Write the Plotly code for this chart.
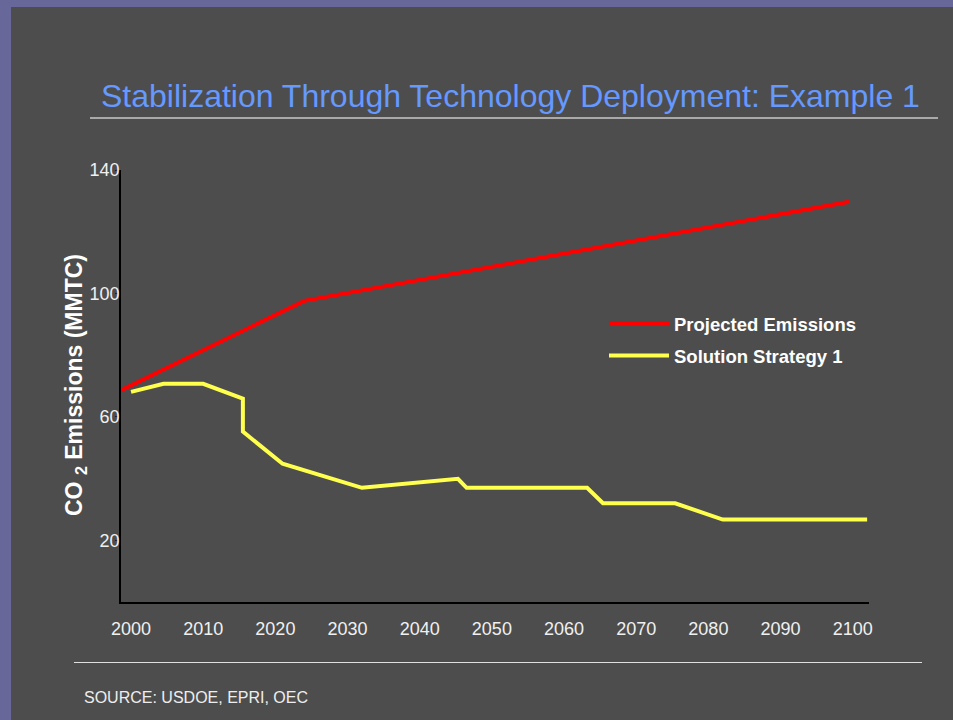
import plotly.graph_objects as go

# Projected CO2 emissions vs. the technology-deployment strategy (MMTC)
projected_years = [1998.5, 2024.0, 2099.5]
projected_values = [68.5, 97.6, 129.7]

strategy_years = [2000.0, 2004.5, 2010.0, 2015.5, 2015.5, 2021.0, 2032.0,
                  2045.3, 2046.5, 2063.2, 2065.4, 2075.4, 2082.0, 2102.0]
strategy_values = [68.1, 70.7, 70.7, 65.9, 55.2, 44.8, 37.0,
                   39.9, 37.0, 37.0, 32.0, 32.0, 26.7, 26.7]

x_ticks = list(range(2000, 2101, 10))
y_ticks = [20, 60, 100, 140]

W, H = 953, 720
L, R, T, B = 121, 869, 170, 602  # plot-area edges in pixels


def px(x):
    return (x - L) / (R - L)


def py(y):
    return (B - y) / (B - T)


FONT = "Liberation Sans, Arial, sans-serif"

fig = go.Figure()
fig.add_trace(go.Scatter(
    x=projected_years, y=projected_values, mode="lines",
    name="Projected Emissions", line=dict(color="#ff0000", width=4),
    legendgroup="a",
))
fig.add_trace(go.Scatter(
    x=strategy_years, y=strategy_values, mode="lines",
    name="Solution Strategy 1", line=dict(color="#ffff4d", width=4),
    legendgroup="b",
))

shapes = [
    # slide background with the purple frame on the top and left edges
    dict(type="rect", xref="paper", yref="paper", x0=px(11), x1=px(W + 5),
         y0=py(7), y1=py(H + 5), fillcolor="#4d4d4d", line=dict(width=0),
         layer="below"),
    # rule under the title
    dict(type="line", xref="paper", yref="paper", x0=px(90), x1=px(938),
         y0=py(118), y1=py(118), line=dict(color="#c8c8c8", width=1.5)),
    # rule above the source note
    dict(type="line", xref="paper", yref="paper", x0=px(74), x1=px(922),
         y0=py(662.5), y1=py(662.5), line=dict(color="#e0e0e0", width=1.2)),
]

annotations = [
    dict(text="Stabilization Through Technology Deployment: Example 1",
         xref="paper", yref="paper", x=px(99), y=py(96), xanchor="left",
         yanchor="middle", showarrow=False,
         font=dict(family=FONT, size=32, color="#6699ff")),
    dict(text="<b>CO <sub>2</sub> Emissions (MMTC)</b>",
         xref="paper", yref="paper", x=px(75), y=py(385), xanchor="center",
         yanchor="middle", textangle=-90, showarrow=False,
         font=dict(family=FONT, size=23, color="#ffffff")),
    dict(text="SOURCE: USDOE, EPRI, OEC",
         xref="paper", yref="paper", x=px(82), y=py(697), xanchor="left",
         yanchor="middle", showarrow=False,
         font=dict(family=FONT, size=16, color="#eeeeee")),
]

fig.update_layout(
    width=W, height=H,
    margin=dict(l=L, r=W - R, t=T, b=H - B, pad=0),
    paper_bgcolor="#676799",
    plot_bgcolor="#4d4d4d",
    font=dict(family=FONT, color="#f0f0f0", size=18),
    shapes=shapes,
    annotations=annotations,
    showlegend=True,
    legend=dict(
        x=px(604), y=py(305), xanchor="left", yanchor="top",
        bgcolor="rgba(0,0,0,0)", traceorder="grouped", tracegroupgap=5,
        font=dict(family=FONT, size=18.5, color="#ffffff", weight="bold"),
        itemwidth=60,
    ),
    xaxis=dict(
        range=[1998.61, 2102.26], tickmode="array", tickvals=x_ticks,
        ticktext=[str(v) for v in x_ticks], showgrid=False, zeroline=False,
        showline=True, linecolor="#000000", linewidth=1.5, ticks="",
        tickfont=dict(size=18, color="#f0f0f0"), ticklabelstandoff=10,
    ),
    yaxis=dict(
        range=[0, 140], tickmode="array", tickvals=y_ticks,
        showgrid=False, zeroline=False, showline=True, linecolor="#000000",
        linewidth=1.5, ticks="outside", ticklen=4, tickcolor="#222222",
        tickfont=dict(size=18, color="#f0f0f0"), ticklabelstandoff=-8,
    ),
)

fig.write_html("out.html")
